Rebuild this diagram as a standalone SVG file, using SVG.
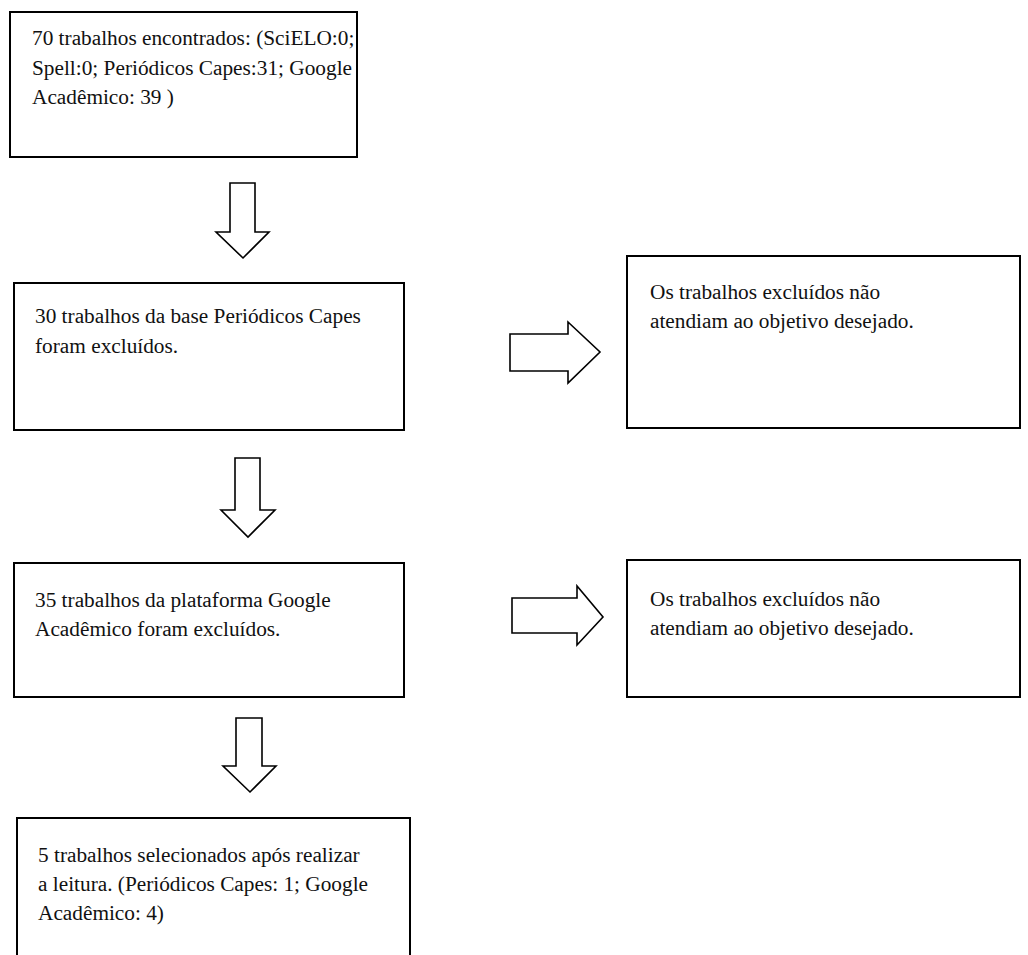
<svg xmlns="http://www.w3.org/2000/svg" width="1028" height="955" viewBox="0 0 1028 955">
  <style>
    .box { fill: #ffffff; stroke: #000000; stroke-width: 2; }
    .arr { fill: #ffffff; stroke: #000000; stroke-width: 1.6; stroke-linejoin: miter; }
    .t { font-family: "Liberation Serif", "Times New Roman", serif; font-size: 21.3px; fill: #111111; }
  </style>
  <rect x="0" y="0" width="1028" height="955" fill="#ffffff"/>

  <g id="connectors">
    <polygon class="arr" points="230,183 255,183 255,232 269,232 243,258 216,232 230,232"/>
    <polygon class="arr" points="510,334 568,334 568,322 600,352 568,383 568,371 510,371"/>
    <polygon class="arr" points="235,458 260,458 260,510 275,510 248,537 221,510 235,510"/>
    <polygon class="arr" points="512,598 577,598 577,586 603,617 577,645 577,633 512,633"/>
    <polygon class="arr" points="236,718 262,718 262,766 276,766 250,792 223,766 236,766"/>
  </g>

  <g id="node1">
    <rect class="box" x="10" y="12" width="347" height="145"/>
    <text class="t" x="32" y="45">70 trabalhos encontrados: (SciELO:0;</text>
    <text class="t" x="32" y="75">Spell:0; Periódicos Capes:31; Google</text>
    <text class="t" x="32" y="104">Acadêmico: 39 )</text>
  </g>

  <g id="node2">
    <rect class="box" x="14" y="283" width="390" height="147"/>
    <text class="t" x="35" y="323">30 trabalhos da base Periódicos Capes</text>
    <text class="t" x="35" y="353">foram excluídos.</text>
  </g>

  <g id="node3">
    <rect class="box" x="627" y="256" width="393" height="172"/>
    <text class="t" x="650" y="299">Os trabalhos excluídos não</text>
    <text class="t" x="650" y="328">atendiam ao objetivo desejado.</text>
  </g>

  <g id="node4">
    <rect class="box" x="14" y="563" width="390" height="134"/>
    <text class="t" x="35" y="607">35 trabalhos da plataforma Google</text>
    <text class="t" x="35" y="636">Acadêmico foram excluídos.</text>
  </g>

  <g id="node5">
    <rect class="box" x="627" y="560" width="393" height="137"/>
    <text class="t" x="650" y="606">Os trabalhos excluídos não</text>
    <text class="t" x="650" y="635">atendiam ao objetivo desejado.</text>
  </g>

  <g id="node6">
    <path class="box" d="M17,960 L17,818 L410,818 L410,960"/>
    <text class="t" x="38" y="862">5 trabalhos selecionados após realizar</text>
    <text class="t" x="38" y="891">a leitura. (Periódicos Capes: 1; Google</text>
    <text class="t" x="38" y="920">Acadêmico: 4)</text>
  </g>
</svg>
